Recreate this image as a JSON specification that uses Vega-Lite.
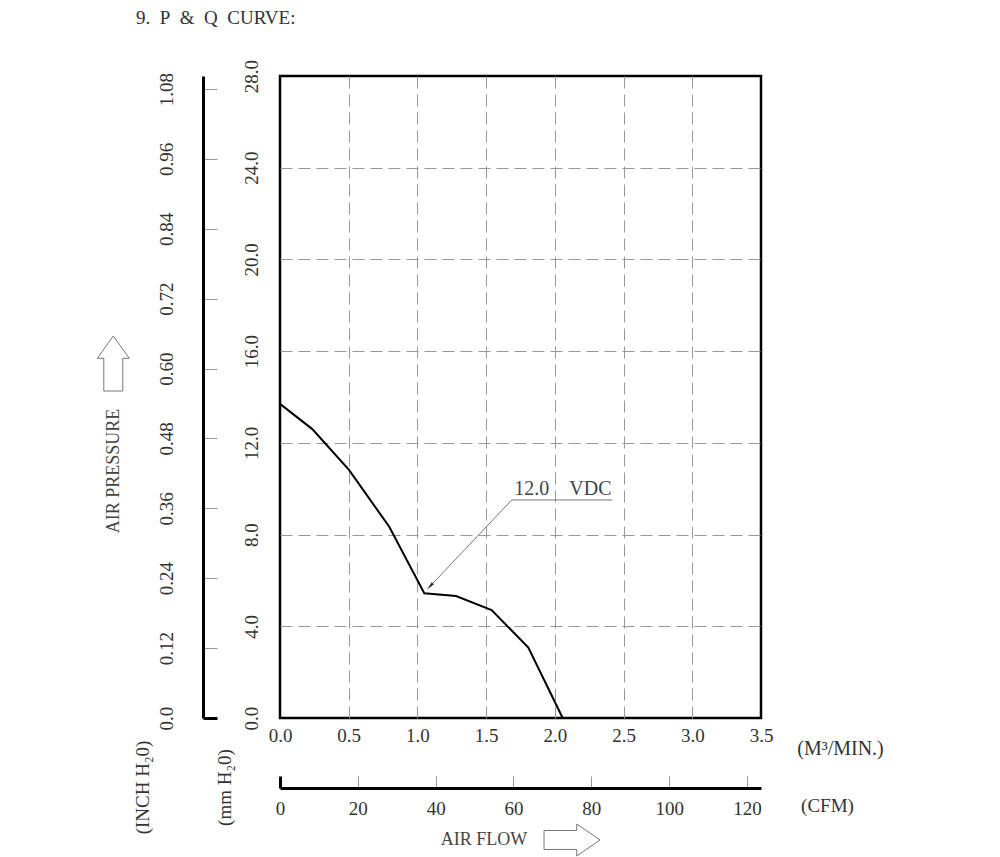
{
  "$schema": "https://vega.github.io/schema/vega-lite/v6.json",
  "width": 481,
  "height": 642,
  "autosize": {"type": "none"},
  "padding": {"left": 280, "top": 76, "right": 239, "bottom": 139},
  "background": "white",
  "title": {"text": "9.\u2002P\u2002&\u2002Q\u2002CURVE:", "anchor": "start", "frame": "group", "dx": -144, "dy": -27, "fontSize": 19, "font": "Liberation Serif", "fontWeight": "normal", "color": "#333"},
  "config": {
    "view": {"stroke": "black", "strokeWidth": 2.5},
    "font": "Liberation Serif",
    "axis": {"labelFont": "Liberation Serif", "titleFont": "Liberation Serif", "labelColor": "#333", "titleColor": "#333", "labelFontSize": 19, "titleFontSize": 19, "titleFontWeight": "normal", "labelOverlap": false, "labelFlush": false}
  },
  "layer": [
    {
      "encoding": {
        "x": {"field": "q", "type": "quantitative", "scale": {"domain": [0, 3.5], "nice": false, "zero": false},
          "axis": {"values": [0, 0.5, 1, 1.5, 2, 2.5, 3, 3.5], "format": ".1f", "title": "(M³/MIN.)", "titleX": 560, "titleY": 30, "titleAlign": "center", "titleBaseline": "middle", "titleAngle": 0, "titleFontSize": 20, "labelFontSize": 19, "labelPadding": 8, "ticks": false, "domain": false, "grid": true, "gridDash": [12, 6], "gridColor": "#999", "gridWidth": 1,
            "gridOpacity": {"condition": {"test": "datum.value === 0 || datum.value === 3.5", "value": 0}, "value": 1}}},
        "y": {"field": "p", "type": "quantitative", "scale": {"domain": [0, 28], "nice": false, "zero": false},
          "axis": {"values": [0, 4, 8, 12, 16, 20, 24, 28], "format": ".1f", "title": "(mm H₂0)", "titleX": -55.5, "titleY": 711, "titleAngle": 270, "titleAlign": "center", "titleBaseline": "middle", "labelAngle": 270, "labelFontSize": 19, "labelPadding": 19, "ticks": false, "domain": false, "grid": true, "gridDash": [12, 6], "gridColor": "#999", "gridWidth": 1,
            "gridOpacity": {"condition": {"test": "datum.value === 0 || datum.value === 28", "value": 0}, "value": 1}}}
      },
      "layer": [
        {
          "data": {"values": [
            {"q": 0, "p": 13.7},
            {"q": 0.235, "p": 12.6},
            {"q": 0.502, "p": 10.82},
            {"q": 0.795, "p": 8.34},
            {"q": 1.05, "p": 5.44},
            {"q": 1.281, "p": 5.32},
            {"q": 1.54, "p": 4.71},
            {"q": 1.807, "p": 3.07},
            {"q": 2.057, "p": 0}
          ]},
          "mark": {"type": "line", "color": "black", "strokeWidth": 2}
        },
        {
          "data": {"values": [
            {"q": 1.686, "p": 9.51, "q2": 2.418, "p2": 9.51},
            {"q": 1.686, "p": 9.51, "q2": 1.085, "p2": 5.7}
          ]},
          "mark": {"type": "rule", "color": "#777", "strokeWidth": 1},
          "encoding": {"x2": {"field": "q2"}, "y2": {"field": "p2"}}
        },
        {
          "data": {"values": [{"q": 1.091, "p": 5.74}]},
          "mark": {"type": "point", "shape": "M0,-1 L0.35,1 L-0.35,1 Z", "filled": true, "color": "#222", "size": 70, "angle": 223, "opacity": 1}
        },
        {
          "data": {"values": [{"q": 2.059, "p": 9.97, "label": "12.0\u2003VDC"}]},
          "mark": {"type": "text", "fontSize": 20, "color": "#444", "align": "center", "baseline": "middle"},
          "encoding": {"text": {"field": "label"}}
        },
        {
          "data": {"values": [{"q": -1.208, "p": 10.77, "label": "AIR PRESSURE"}]},
          "mark": {"type": "text", "fontSize": 18, "color": "#444", "align": "center", "baseline": "middle", "angle": 270},
          "encoding": {"text": {"field": "label"}}
        },
        {
          "data": {"values": [{"q": 1.484, "p": -5.32, "label": "AIR FLOW"}]},
          "mark": {"type": "text", "fontSize": 18, "color": "#444", "align": "center", "baseline": "middle"},
          "encoding": {"text": {"field": "label"}}
        },
        {
          "data": {"values": [{"q": -1.213, "p": 15.46}]},
          "mark": {"type": "point", "shape": "M0,-1 L0.582,-0.189 L0.345,-0.189 L0.345,1 L-0.345,1 L-0.345,-0.189 L-0.582,-0.189 Z", "filled": false, "stroke": "#777", "strokeWidth": 1, "size": 3025, "opacity": 1}
        },
        {
          "data": {"values": [{"q": 2.125, "p": -5.32}]},
          "mark": {"type": "point", "shape": "M1,0 L0.168,-0.571 L0.168,-0.339 L-1,-0.339 L-1,0.339 L0.168,0.339 L0.168,0.571 Z", "filled": false, "stroke": "#777", "strokeWidth": 1, "size": 3136, "opacity": 1}
        }
      ]
    },
    {
      "data": {"values": [{"cfm": 0, "inch": 0}]},
      "mark": {"type": "point", "opacity": 0},
      "encoding": {
        "x": {"field": "cfm", "type": "quantitative", "scale": {"domain": [0, 123.6], "nice": false, "zero": false},
          "axis": {"orient": "bottom", "offset": 70, "values": [0, 20, 40, 60, 80, 100, 120], "format": "d", "title": "(CFM)", "titleX": 547, "titleY": 17, "titleAlign": "center", "titleBaseline": "middle", "titleAngle": 0, "grid": false, "domain": true, "domainColor": "black", "domainWidth": 3, "ticks": true, "tickSize": -12,
            "tickColor": {"condition": {"test": "datum.value === 0", "value": "black"}, "value": "#999"},
            "tickWidth": {"condition": {"test": "datum.value === 0", "value": 3}, "value": 1},
            "labelFontSize": 19, "labelFont": "Liberation Serif", "labelColor": "#333", "labelPadding": 23}},
        "y": {"field": "inch", "type": "quantitative", "scale": {"domain": [0, 1.1024], "nice": false, "zero": false},
          "axis": {"orient": "left", "offset": 77, "values": [0, 0.12, 0.24, 0.36, 0.48, 0.6, 0.72, 0.84, 0.96, 1.08], "labelExpr": "datum.value === 0 ? '0.0' : format(datum.value, '.2f')", "labelAngle": 270, "title": "(INCH H₂0)", "titleX": -61, "titleY": 711, "titleAngle": 270, "titleAlign": "center", "titleBaseline": "middle", "grid": false, "domain": true, "domainColor": "black", "domainWidth": 3, "ticks": true, "tickSize": -14,
            "tickColor": {"condition": {"test": "datum.value === 0", "value": "black"}, "value": "#999"},
            "tickWidth": {"condition": {"test": "datum.value === 0", "value": 3}, "value": 1},
            "labelFontSize": 19, "labelFont": "Liberation Serif", "labelColor": "#333", "labelPadding": 41}}
      }
    }
  ],
  "resolve": {"scale": {"x": "independent", "y": "independent"}, "axis": {"x": "independent", "y": "independent"}}
}
